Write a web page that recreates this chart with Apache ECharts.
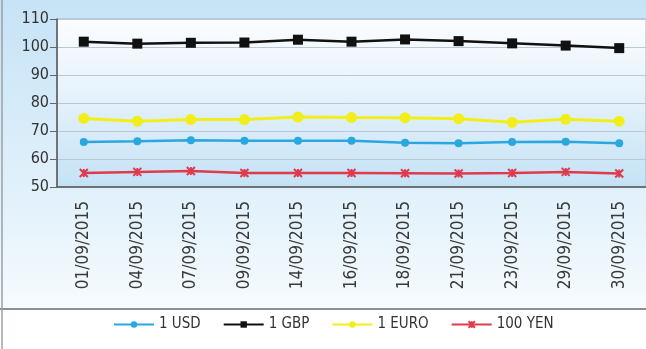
<!DOCTYPE html>
<html>
<head>
<meta charset="utf-8">
<script src="https://cdn.jsdelivr.net/npm/echarts@6/dist/echarts.min.js"></script>
<style>
  html, body { margin: 0; padding: 0; background: #fff; }
  #chart { width: 646px; height: 349px; }
</style>
</head>
<body>
<div id="chart"></div>
<script>
// dates on the x axis
const dates = ["01/09/2015", "04/09/2015", "07/09/2015", "09/09/2015", "14/09/2015", "16/09/2015",
  "18/09/2015", "21/09/2015", "23/09/2015", "29/09/2015", "30/09/2015"];
// exchange rates
const usd = [66.1, 66.3, 66.7, 66.5, 66.5, 66.5, 65.8, 65.6, 66.1, 66.2, 65.6];
const gbp = [101.9, 101.2, 101.5, 101.6, 102.6, 101.9, 102.7, 102.1, 101.3, 100.5, 99.6];
const euro = [74.5, 73.5, 74.1, 74.1, 75.0, 74.8, 74.7, 74.4, 73.1, 74.2, 73.5];
const yen = [55.0, 55.4, 55.7, 55.0, 55.0, 55.0, 54.9, 54.8, 55.0, 55.4, 54.8];
const yTicks = [50, 60, 70, 80, 90, 100, 110];

const font = "'DejaVu Sans Condensed', sans-serif";
const cross = "path://M0,0 L10,10 M10,0 L0,10 M5,0 L5,10";

let myChart = echarts.init(document.getElementById("chart")),
  option;

function line(name, data, color, symbol, size, width) {
  return {
    name: name,
    type: "line",
    data: data,
    symbol: symbol,
    symbolSize: size,
    lineStyle: { color: color, width: width },
    itemStyle: { color: color, borderColor: color, borderWidth: symbol === cross ? 2 : 0 },
    animation: false
  };
}

option = {
  backgroundColor: {
    type: "linear", x: 0, y: 0, x2: 0, y2: 1,
    colorStops: [
      { offset: 0, color: "#c6e3f6" },
      { offset: 0.6, color: "#e4f2fb" },
      { offset: 0.88, color: "#f6fbfe" },
      { offset: 0.885, color: "#ffffff" },
      { offset: 1, color: "#ffffff" }
    ]
  },
  graphic: [
    { type: "line", shape: { x1: 0, y1: 309, x2: 646, y2: 309 }, style: { stroke: "#8a9096", lineWidth: 2 }, silent: true },
    { type: "line", shape: { x1: 2, y1: 0, x2: 2, y2: 349 }, style: { stroke: "#9aa0a6", lineWidth: 1.5 }, silent: true }
  ],
  legend: {
    bottom: 12,
    left: 108,
    itemWidth: 40,
    itemHeight: 8,
    itemGap: 22,
    textStyle: { fontFamily: font, fontSize: 15, color: "#333" },
    data: ["1 USD", "1 GBP", "1 EURO", "100 YEN"]
  },
  grid: {
    left: 57,
    top: 19,
    bottom: 162,
    right: -2,
    show: true,
    borderColor: "#a9b4bd",
    borderWidth: 1,
    backgroundColor: {
      type: "linear", x: 0, y: 0, x2: 0, y2: 1,
      colorStops: [
        { offset: 0, color: "#fbfdff" },
        { offset: 0.45, color: "#e6f2fb" },
        { offset: 1, color: "#c4e2f5" }
      ]
    }
  },
  xAxis: {
    type: "category",
    data: dates,
    boundaryGap: true,
    axisLine: { lineStyle: { color: "#555", width: 1.5 } },
    axisTick: { length: 12, lineStyle: { color: "#666" } },
    axisLabel: { rotate: 90, margin: 14, fontFamily: font, fontSize: 17, color: "#3a3a3a" },
    splitLine: { show: false }
  },
  yAxis: {
    type: "value",
    min: yTicks[0],
    max: yTicks[yTicks.length - 1],
    interval: 10,
    axisLine: { show: true, lineStyle: { color: "#555", width: 1.5 } },
    axisTick: { show: true, length: 7, lineStyle: { color: "#666" } },
    axisLabel: { margin: 8, fontFamily: font, fontSize: 16, color: "#333" },
    splitLine: { lineStyle: { color: "#bcc7d2", width: 1 } }
  },
  series: [
    line("1 USD", usd, "#2aa7df", "circle", 8, 2.5),
    line("1 GBP", gbp, "#111111", "rect", 10, 2.5),
    line("1 EURO", euro, "#f2ee1c", "circle", 11, 3),
    line("100 YEN", yen, "#e03a4e", cross, 8, 2.5)
  ]
};

if (option && typeof option === "object") myChart.setOption(option);
window.addEventListener("resize", function () {
  myChart.resize();
});
</script>
</body>
</html>
